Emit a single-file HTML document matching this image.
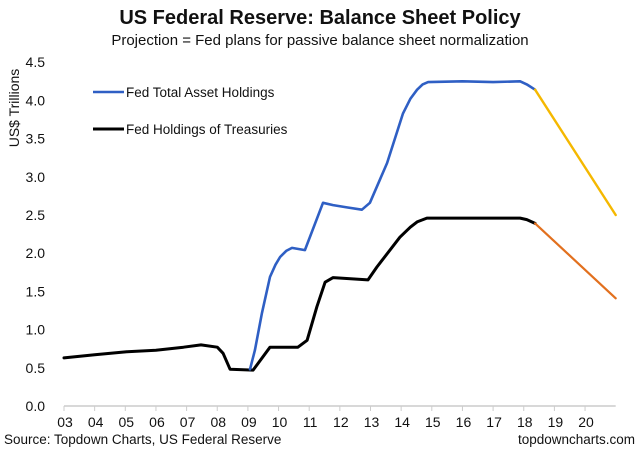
<!DOCTYPE html>
<html><head><meta charset="utf-8"><style>
body{margin:0;background:#fff;}
svg{display:block;font-family:"Liberation Sans",Arial,sans-serif;}
</style></head><body>
<svg id="chart" width="640" height="457" viewBox="0 0 640 457">
<text x="320" y="24" text-anchor="middle" font-size="20" font-weight="bold" fill="#111">US Federal Reserve: Balance Sheet Policy</text>
<text x="320" y="45" text-anchor="middle" font-size="15" fill="#111">Projection = Fed plans for passive balance sheet normalization</text>
<text transform="translate(19,108) rotate(-90)" text-anchor="middle" font-size="14" fill="#111">US$ Trillions</text>
<g id="yticks"></g>
<g id="xaxis"></g>
<g id="series"></g>
<g>
<line x1="93" y1="92" x2="124" y2="92" stroke="#2f5fc4" stroke-width="2.5"/>
<text x="126" y="97" font-size="13.5" fill="#111">Fed Total Asset Holdings</text>
<line x1="93" y1="129" x2="124" y2="129" stroke="#000" stroke-width="3"/>
<text x="126" y="134" font-size="13.5" fill="#111">Fed Holdings of Treasuries</text>
</g>
<text x="4" y="444" font-size="13.5" fill="#111">Source: Topdown Charts, US Federal Reserve</text>
<text x="635" y="444" text-anchor="end" font-size="13.5" fill="#111">topdowncharts.com</text>
</svg>
<script>
const yTicks=[0,0.5,1,1.5,2,2.5,3,3.5,4,4.5];
const yTickLabels=["0.0","0.5","1.0","1.5","2.0","2.5","3.0","3.5","4.0","4.5"];
const xYears=[2003,2004,2005,2006,2007,2008,2009,2010,2011,2012,2013,2014,2015,2016,2017,2018,2019,2020];
const xTickLabels=["03","04","05","06","07","08","09","10","11","12","13","14","15","16","17","18","19","20"];
const totalYears=[2009.07,2009.23,2009.46,2009.72,2009.9,2010.05,2010.25,2010.44,2010.86,2011.45,2011.78,2012.23,2012.72,2012.98,2013.54,2014.06,2014.3,2014.52,2014.7,2014.88,2016.0,2017.0,2017.88,2018.1,2018.37];
const totalValues=[0.48,0.73,1.22,1.69,1.85,1.95,2.03,2.07,2.04,2.66,2.63,2.60,2.57,2.66,3.18,3.83,4.02,4.14,4.21,4.24,4.25,4.24,4.25,4.21,4.14];
const totalProjYears=[2018.37,2021.0];
const totalProjValues=[4.14,2.50];
const tsyYears=[2003.0,2004.0,2005.05,2006.0,2006.9,2007.47,2008.0,2008.19,2008.42,2009.17,2009.72,2010.63,2010.93,2011.25,2011.52,2011.78,2012.92,2013.21,2013.96,2014.3,2014.52,2014.84,2017.88,2018.1,2018.37];
const tsyValues=[0.63,0.67,0.71,0.73,0.77,0.80,0.77,0.69,0.48,0.47,0.77,0.77,0.86,1.30,1.62,1.68,1.65,1.82,2.21,2.34,2.41,2.46,2.46,2.44,2.39];
const tsyProjYears=[2018.37,2021.0];
const tsyProjValues=[2.39,1.41];

const NS="http://www.w3.org/2000/svg";
const X=y=>64+(y-2003)*30.65;
const Y=v=>406-v*76.4;
function mk(tag,attrs,parent){const e=document.createElementNS(NS,tag);for(const k in attrs)e.setAttribute(k,attrs[k]);parent.appendChild(e);return e;}
const yg=document.getElementById('yticks');
yTicks.forEach((v,i)=>{const t=mk('text',{x:45,y:Y(v)+5,'text-anchor':'end','font-size':14,fill:'#111'},yg);t.textContent=yTickLabels[i];

});
const xg=document.getElementById('xaxis');
const ax=mk('line',{x1:X(2003),y1:406,x2:X(2021),y2:406,stroke:'#ccc','stroke-width':1.5},xg);


xYears.forEach((y,i)=>{const tk=mk('line',{x1:X(y),y1:406,x2:X(y),y2:411,stroke:'#ccc','stroke-width':1},xg);


const t=mk('text',{x:X(y)+1,y:427,'text-anchor':'middle','font-size':14,fill:'#111'},xg);t.textContent=xTickLabels[i];

});
const sg=document.getElementById('series');
function line(xs,vs,color,w,name){const d=xs.map((x,i)=>(i?'L':'M')+X(x).toFixed(1)+','+Y(vs[i]).toFixed(1)).join(' ');
const p=mk('path',{d:d,fill:'none',stroke:color,'stroke-width':w,'stroke-linejoin':'round','stroke-linecap':'round'},sg);

}
line(tsyYears,tsyValues,'#000',3,'treasuries-line');
line(tsyProjYears,tsyProjValues,'#e2701e',2.2,'treasuries-projection-line');
line(totalYears,totalValues,'#2f5fc4',2.6,'total-assets-line');
line(totalProjYears,totalProjValues,'#f5b800',2.4,'total-assets-projection-line');
</script>
</body></html>
